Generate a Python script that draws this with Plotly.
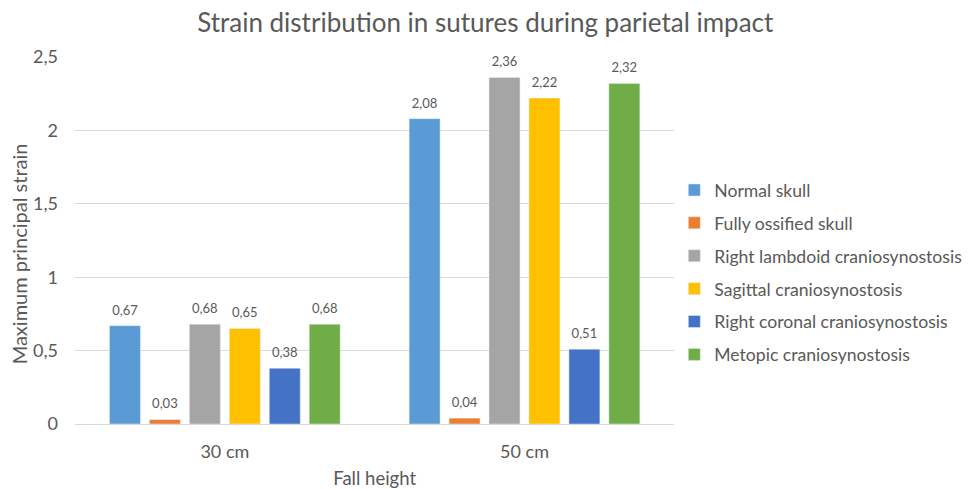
import plotly.graph_objects as go

categories = ["30 cm", "50 cm"]
series_names = ["Normal skull", "Fully ossified skull", "Right lambdoid craniosynostosis",
                "Sagittal craniosynostosis", "Right coronal craniosynostosis", "Metopic craniosynostosis"]
normal = [0.67, 2.08]
ossified = [0.03, 0.04]
lambdoid = [0.68, 2.36]
sagittal = [0.65, 2.22]
coronal = [0.38, 0.51]
metopic = [0.68, 2.32]
colors = ["#5B9BD5", "#ED7D31", "#A5A5A5", "#FFC000", "#4472C4", "#70AD47"]
values = [normal, ossified, lambdoid, sagittal, coronal, metopic]

font_family = "Lato, Open Sans, sans-serif"
grey = "#595959"

fig = go.Figure()
for i, (name, vals, col) in enumerate(zip(series_names, values, colors)):
    fig.add_trace(go.Bar(
        x=categories, y=vals, name=name, marker_color=col,
        offsetgroup=f"s{i}", alignmentgroup="a",
        legendgroup=f"g{i}",
    ))
for i, vals in enumerate(values):
    fig.add_trace(go.Scatter(
        x=categories, y=vals, mode="markers+text",
        text=[f"{v:.2f}".replace(".", ",") for v in vals],
        textposition="top center", cliponaxis=False,
        textfont=dict(size=13, color=grey, family=font_family),
        offsetgroup=f"s{i}", alignmentgroup="a",
        showlegend=False, hoverinfo="skip",
        marker=dict(size=11, opacity=0),
    ))

fig.update_layout(
    width=972, height=489,
    paper_bgcolor="white", plot_bgcolor="white",
    separators=",.",
    barmode="group", bargap=0.2, bargroupgap=0.225,
    scattermode="group", scattergap=0.2,
    margin=dict(l=67, r=305, t=49, b=73),
    title=dict(text="Strain distribution in sutures during parietal impact",
               x=0.491, xanchor="center", y=0.97, yanchor="middle",
               font=dict(size=26, color=grey, family=font_family)),
    font=dict(family=font_family, color=grey),
    legend=dict(xref="container", yref="container",
                x=0.6855, xanchor="left", y=0.459, yanchor="middle",
                font=dict(size=17.6, color=grey, family=font_family),
                tracegroupgap=7, traceorder="grouped",
                itemwidth=30),
    showlegend=True,
    annotations=[dict(text="Maximum principal strain", textangle=-90,
                      xref="paper", yref="paper", x=-0.093, y=0.463,
                      xanchor="center", yanchor="middle", showarrow=False,
                      font=dict(size=20, color=grey, family=font_family))],
)
fig.update_yaxes(range=[0, 2.5], dtick=0.5, showgrid=True, gridcolor="#D9D9D9",
                 zeroline=False, showline=False, automargin=False,
                 tickfont=dict(size=18, color=grey), ticks="", ticklabelstandoff=16)
fig.update_xaxes(showline=True, linecolor="#D9D9D9", linewidth=1, automargin=False,
                 tickfont=dict(size=18, color=grey), ticklabelstandoff=11,
                 title=dict(text="Fall height", font=dict(size=18.5, color=grey), standoff=11))

fig.write_html("out.html")
